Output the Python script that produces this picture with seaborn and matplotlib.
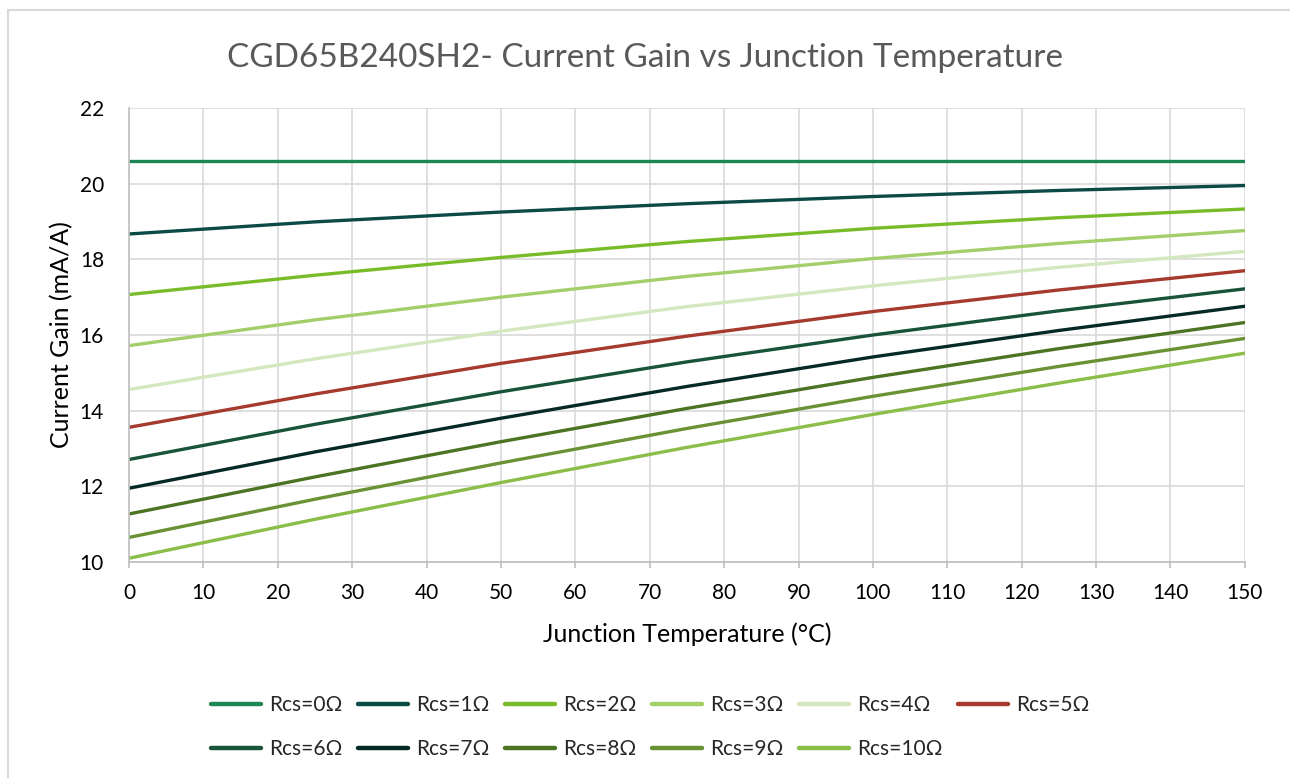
import matplotlib
matplotlib.use("Agg")
import matplotlib.pyplot as plt
import seaborn as sns
import pandas as pd
from matplotlib.patches import Rectangle

temps = [0, 25, 50, 75, 100, 125, 150]
series_names = ["Rcs=0Ω", "Rcs=1Ω", "Rcs=2Ω", "Rcs=3Ω", "Rcs=4Ω", "Rcs=5Ω",
                "Rcs=6Ω", "Rcs=7Ω", "Rcs=8Ω", "Rcs=9Ω", "Rcs=10Ω"]
r0 = [20.6, 20.6, 20.6, 20.6, 20.6, 20.6, 20.6]
r1 = [18.67, 18.99, 19.25, 19.47, 19.66, 19.82, 19.95]
r2 = [17.07, 17.58, 18.05, 18.47, 18.82, 19.10, 19.33]
r3 = [15.72, 16.40, 17.00, 17.55, 18.02, 18.42, 18.76]
r4 = [14.56, 15.37, 16.10, 16.75, 17.30, 17.79, 18.21]
r5 = [13.56, 14.44, 15.25, 15.97, 16.62, 17.19, 17.70]
r6 = [12.71, 13.64, 14.50, 15.29, 16.00, 16.64, 17.22]
r7 = [11.95, 12.91, 13.80, 14.64, 15.42, 16.12, 16.76]
r8 = [11.27, 12.25, 13.18, 14.06, 14.88, 15.64, 16.33]
r9 = [10.65, 11.66, 12.62, 13.53, 14.38, 15.17, 15.91]
r10 = [10.10, 11.13, 12.10, 13.03, 13.90, 14.73, 15.52]
all_values = [r0, r1, r2, r3, r4, r5, r6, r7, r8, r9, r10]
colors = ["#1E8554", "#0B4A45", "#78BC2A", "#A2CF6A", "#D4E8BF", "#A63A2F",
          "#18533A", "#052A26", "#4B7423", "#6A9235", "#8BBD49"]
x_ticks = list(range(0, 151, 10))
y_ticks = [10, 12, 14, 16, 18, 20, 22]

rows = []
for name, vals in zip(series_names, all_values):
    for t, v in zip(temps, vals):
        rows.append({"T": t, "Gain": v, "Series": name})
df = pd.DataFrame(rows)

sns.set_theme(style="white")
plt.rcParams["font.family"] = ["Lato", "DejaVu Sans"]

fig = plt.figure(figsize=(12.9, 7.78), dpi=100)
ax = fig.add_axes([0.1, 0.2776, 0.865, 0.5836])

sns.lineplot(data=df, x="T", y="Gain", hue="Series", hue_order=series_names,
             palette=colors, linewidth=2.4, ax=ax, legend=True)

ax.set_xlim(0, 150)
ax.set_ylim(10, 22)
ax.set_xticks(x_ticks)
ax.set_yticks(y_ticks)
ax.grid(True, color="#D9D9D9", linewidth=1.2)
ax.set_axisbelow(True)
for s in ["top", "right"]:
    ax.spines[s].set_visible(False)
for s in ["left", "bottom"]:
    ax.spines[s].set_color("#BFBFBF")
    ax.spines[s].set_linewidth(1.2)
ax.tick_params(axis="x", which="both", bottom=True, length=4.3, width=1.2,
               color="#BFBFBF", labelsize=15, labelcolor="#000000", pad=11)
ax.tick_params(axis="y", left=False, labelsize=15, labelcolor="#000000", pad=12)
ax.set_xlabel("Junction Temperature (°C)", fontsize=18, color="#000000", labelpad=14)
ax.set_ylabel("Current Gain (mA/A)", fontsize=18, color="#000000", labelpad=5)
fig.text(0.5, 0.926, "CGD65B240SH2- Current Gain vs Junction Temperature",
         ha="center", va="center", fontsize=24, color="#595959")

handles, labels = ax.get_legend_handles_labels()
ax.get_legend().remove()
for h in handles:
    h.set_linewidth(3.2)
order = [0, 6, 1, 7, 2, 8, 3, 9, 4, 10, 5]
handles = [handles[i] for i in order]
labels = [labels[i] for i in order]
leg = fig.legend(handles, labels, loc="center", bbox_to_anchor=(0.504, 0.065),
                 ncol=6, frameon=False, fontsize=15, handlelength=2.4,
                 handletextpad=0.38, columnspacing=0.75, labelspacing=1.15)

fig.patches.append(Rectangle((0.0062, -0.1), 1.2, 1.087, transform=fig.transFigure,
                             fill=False, edgecolor="#D9D9D9", linewidth=1.5))

fig.savefig("out.png", dpi=100)
